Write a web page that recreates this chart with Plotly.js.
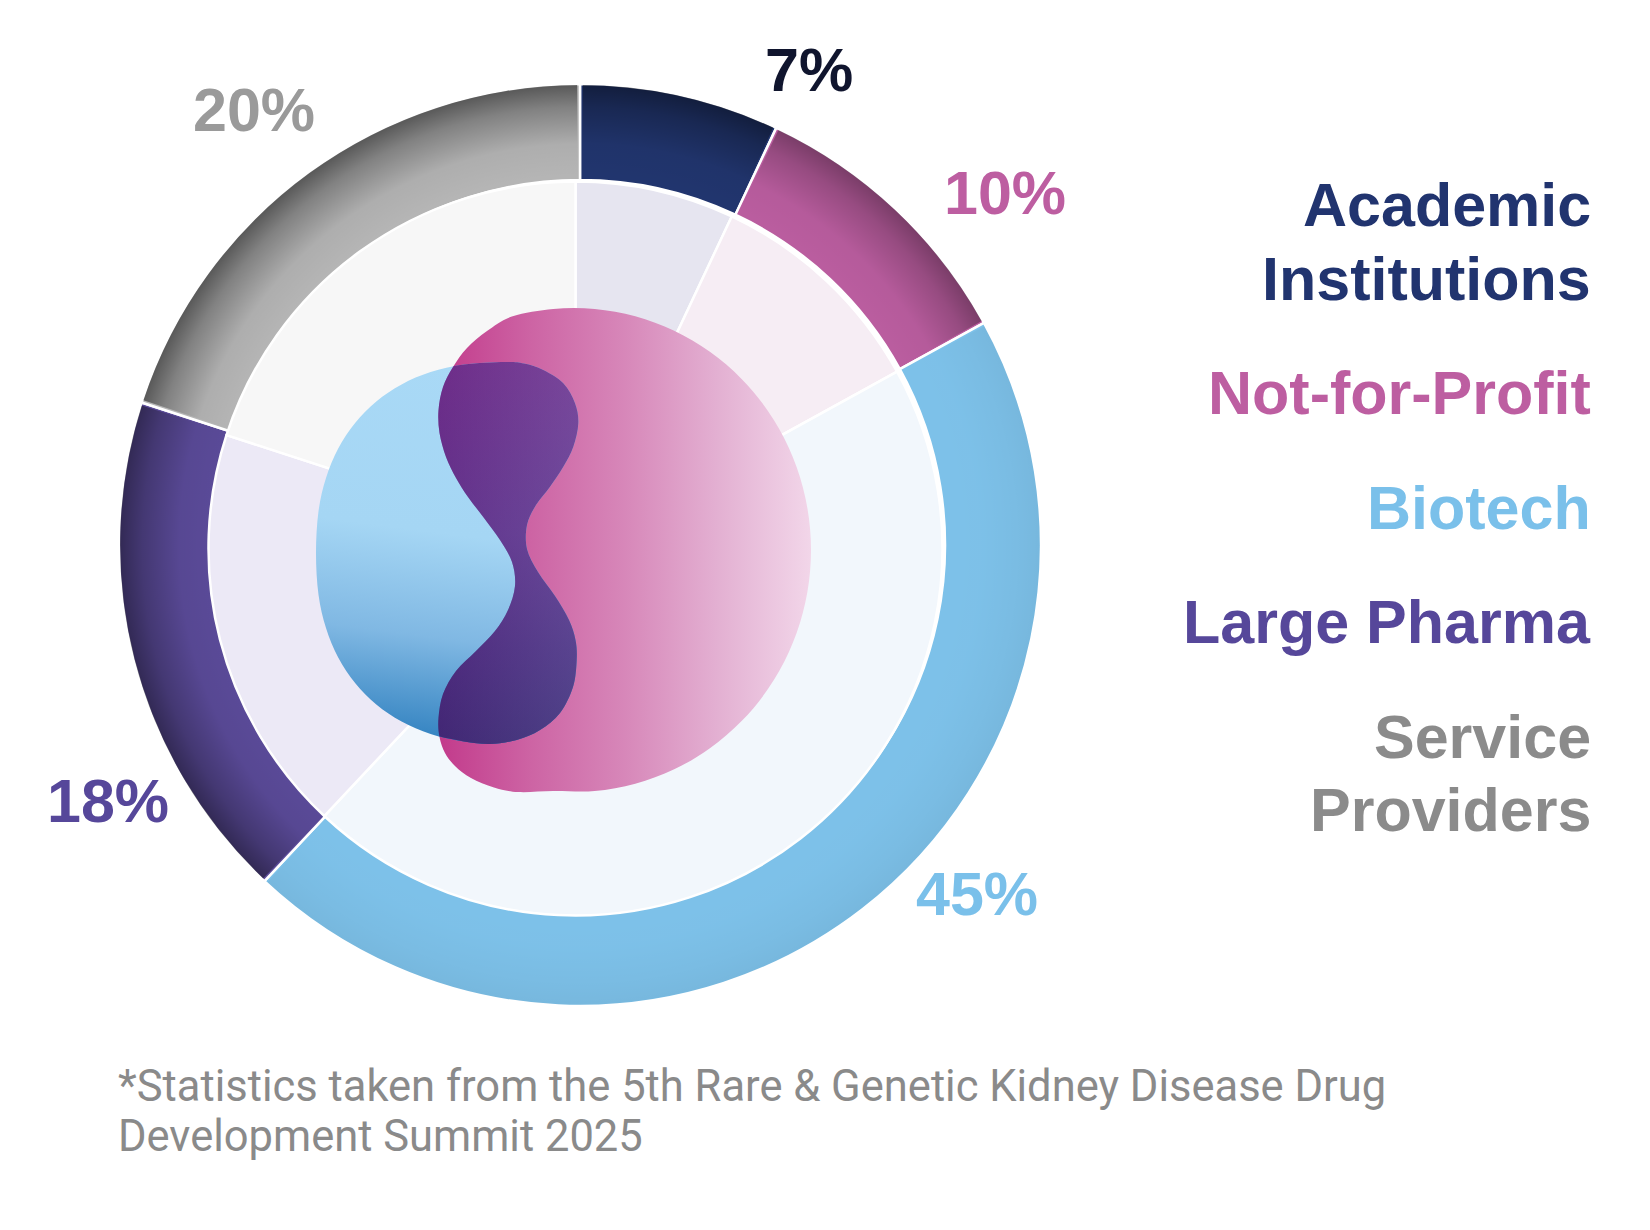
<!DOCTYPE html>
<html>
<head>
<meta charset="utf-8">
<script src="https://cdn.plot.ly/plotly-3.0.1.min.js"></script>
<style>
html,body{margin:0;padding:0;background:#ffffff;}
#chart{width:1650px;height:1230px;}
</style>
</head>
<body>
<div id="chart"></div>
<script>
// ---------------- DATA ----------------
const categories = ['Academic Institutions', 'Not-for-Profit', 'Biotech', 'Large Pharma', 'Service Providers'];
const shares = [7, 10, 45, 18, 20];
const legendLines = [['Academic', 'Institutions'], ['Not-for-Profit'], ['Biotech'], ['Large Pharma'], ['Service', 'Providers']];
const footnoteLines = ['*Statistics taken from the 5th Rare & Genetic Kidney Disease Drug', 'Development Summit 2025'];

// ---------------- STYLE ----------------
const ringColors   = ['#21356e', '#ba5d9f', '#7dc1e9', '#5a4a98', '#b5b5b5'];
const lightColors  = ['#e6e5f0', '#f6edf4', '#f2f7fc', '#ece9f6', '#f7f7f7'];
const labelColors  = ['#10152e', '#bd5ea1', '#7ac0ea', '#56479a', '#9a9a9a'];
const legendColors = ['#21346f', '#bd5ea1', '#7ac0ea', '#56479a', '#8b8b8b'];
const shadeStrength = [0.45, 0.35, 0.05, 0.45, 0.52];

// layout positions (pixels)
const W = 1650, H = 1230;
const OUTER_C = [580, 545], R_OUT = 461;
const INNER_C = [575.5, 548.5], R_IN = 367;
const labelPos = [[809, 70], [1005, 193], [977, 894], [108, 801], [254, 110]];
const legendY = [[205, 279], [393], [508], [622], [737, 810]];
const legendRight = 1593;
const footnoteX = 116, footnoteY = [1086, 1136];

const FONT = 'Liberation Sans, Arial, Helvetica, sans-serif';
const px = x => x / W;
const py = y => 1 - y / H;
function dom(c, r) { return { x: [(c[0] - r) / W, (c[0] + r) / W], y: [1 - (c[1] + r) / H, 1 - (c[1] - r) / H] }; }

const outer = {
  type: 'pie', values: shares, labels: categories, sort: false, direction: 'clockwise', rotation: 0,
  hole: (R_IN - 2) / R_OUT, marker: { colors: ringColors, line: { color: '#ffffff', width: 2.5 } },
  textinfo: 'none', hoverinfo: 'label+percent', showlegend: false, domain: dom(OUTER_C, R_OUT)
};
const inner = {
  type: 'pie', values: shares, labels: categories, sort: false, direction: 'clockwise', rotation: 0,
  hole: 0, marker: { colors: lightColors, line: { color: '#ffffff', width: 2.5 } },
  textinfo: 'none', hoverinfo: 'label+percent', showlegend: false, domain: dom(INNER_C, R_IN)
};

// ---------------- ANNOTATIONS ----------------
const annotations = [];
shares.forEach((v, i) => {
  annotations.push({
    xref: 'paper', yref: 'paper', x: px(labelPos[i][0]), y: py(labelPos[i][1]),
    xanchor: 'center', yanchor: 'middle', showarrow: false, text: v + '%',
    font: { family: FONT, size: 61, color: labelColors[i], weight: 700 }
  });
});
legendLines.forEach((lines, i) => {
  lines.forEach((t, j) => {
    annotations.push({
      xref: 'paper', yref: 'paper', x: px(legendRight), y: py(legendY[i][j]),
      xanchor: 'right', yanchor: 'middle', showarrow: false, text: t, align: 'right',
      font: { family: FONT, size: 61, color: legendColors[i], weight: 700 }
    });
  });
});
footnoteLines.forEach((t, j) => {
  annotations.push({
    xref: 'paper', yref: 'paper', x: px(footnoteX), y: py(footnoteY[j]),
    xanchor: 'left', yanchor: 'middle', showarrow: false, text: t, align: 'left',
    font: { family: 'Roboto, Liberation Sans, Arial, sans-serif', size: 43.5, color: '#8a8a8a' }
  });
});

// ---------------- DECORATION (centre logo + ring shading) ----------------
function f(n) { return Math.round(n * 10) / 10; }
// pink blob: elliptical right part + S-shaped left edge
const PINK_ELLIPSE = { cx: 574, cy: 550, rx: 237, ry: 242, from: -15, to: 185, step: 10 };
const PINK_LEFT = [[518,792],[494,787.5],[471,778],[455,766],[445,753],[439.5,737],[438.5,718],[443,694],[456,671],[476,651],[495,631],[508,610],[515,586],[512,562],[500,540],[484,518],[468,497],[456,478],[446,457],[439.5,433],[438.5,410],[443,387],[453,367],[467,348],[487,331]];
// blue blob: S-shaped right edge + rounded (superellipse) left part
const BLUE_RIGHT = [[505,362],[524,363.5],[543.3,370],[563.3,383.3],[575,403.3],[578.3,423.3],[573.3,446.7],[563.3,466.7],[550,486.7],[536,505],[527,525],[527,549],[538,572],[555,596],[569,620],[575.5,640],[576.7,660],[573,687],[560,713],[540,730],[516.7,740],[490,744]];
const BLUE_LEFT = { cx: 505, cy: 553, rx: 189, ry: 191, n: 2.3, from: 100, to: 260, step: 10 };

function pinkPoints() {
  const e = PINK_ELLIPSE, pts = [];
  for (let a = e.from; a <= e.to + 1e-9; a += e.step) {
    const r = a * Math.PI / 180;
    pts.push([e.cx + e.rx * Math.sin(r), e.cy - e.ry * Math.cos(r)]);
  }
  return pts.concat(PINK_LEFT);
}
function bluePoints() {
  const e = BLUE_LEFT, pts = BLUE_RIGHT.slice();
  const pw = v => Math.sign(v) * Math.pow(Math.abs(v), 2 / e.n);
  for (let a = e.from; a <= e.to + 1e-9; a += e.step) {
    const r = a * Math.PI / 180;
    pts.push([e.cx + e.rx * pw(Math.cos(r)), e.cy + e.ry * pw(Math.sin(r))]);
  }
  return pts;
}
function smooth(pts) {
  const n = pts.length;
  let d = 'M' + f(pts[0][0]) + ',' + f(pts[0][1]);
  for (let i = 0; i < n; i++) {
    const p0 = pts[(i - 1 + n) % n], p1 = pts[i], p2 = pts[(i + 1) % n], p3 = pts[(i + 2) % n];
    const c1 = [p1[0] + (p2[0] - p0[0]) / 6, p1[1] + (p2[1] - p0[1]) / 6];
    const c2 = [p2[0] - (p3[0] - p1[0]) / 6, p2[1] - (p3[1] - p1[1]) / 6];
    d += ' C' + f(c1[0]) + ',' + f(c1[1]) + ' ' + f(c2[0]) + ',' + f(c2[1]) + ' ' + f(p2[0]) + ',' + f(p2[1]);
  }
  return d + 'Z';
}
function pt(c, r, deg) { const a = deg * Math.PI / 180; return [c[0] + r * Math.sin(a), c[1] - r * Math.cos(a)]; }
function wedge(c, a0, a1, r0, r1) {
  const large = (a1 - a0) > 180 ? 1 : 0;
  const o0 = pt(c, r1, a0), o1 = pt(c, r1, a1), i1 = pt(c, r0, a1), i0 = pt(c, r0, a0);
  return 'M' + f(o0[0]) + ',' + f(o0[1]) + ' A' + r1 + ',' + r1 + ' 0 ' + large + ' 1 ' + f(o1[0]) + ',' + f(o1[1]) +
    ' L' + f(i1[0]) + ',' + f(i1[1]) + ' A' + r0 + ',' + r0 + ' 0 ' + large + ' 0 ' + f(i0[0]) + ',' + f(i0[1]) + 'Z';
}

const total = shares.reduce((a, b) => a + b, 0);
let cum = 0, shadeDefs = '', shadePaths = '';
shares.forEach((v, i) => {
  const a0 = cum / total * 360 + 0.35, a1 = (cum + v) / total * 360 - 0.35;
  cum += v;
  const s = shadeStrength[i];
  shadeDefs += '<radialGradient id="sh' + i + '" gradientUnits="userSpaceOnUse" cx="' + OUTER_C[0] + '" cy="' + OUTER_C[1] + '" r="' + R_OUT + '">' +
    '<stop offset="0.80" stop-color="#000" stop-opacity="0"/>' +
    '<stop offset="0.87" stop-color="#000" stop-opacity="' + (0.08 * s) + '"/>' +
    '<stop offset="0.95" stop-color="#000" stop-opacity="' + (0.55 * s) + '"/>' +
    '<stop offset="1" stop-color="#000" stop-opacity="' + (1.0 * s) + '"/></radialGradient>';
  shadePaths += '<path d="' + wedge(OUTER_C, a0, a1, R_IN + 2, R_OUT - 1) + '" fill="url(#sh' + i + ')"/>';
});

const pinkD = smooth(pinkPoints()), blueD = smooth(bluePoints());
const svg = '<svg xmlns="http://www.w3.org/2000/svg" width="' + W + '" height="' + H + '" viewBox="0 0 ' + W + ' ' + H + '">' +
  '<defs>' + shadeDefs +
  '<linearGradient id="gPink" gradientUnits="userSpaceOnUse" x1="438" y1="0" x2="811" y2="0">' +
  '<stop offset="0" stop-color="#c23a8b"/><stop offset="0.25" stop-color="#cd64a4"/><stop offset="0.5" stop-color="#d787b9"/><stop offset="0.75" stop-color="#e3b0d2"/><stop offset="1" stop-color="#f2d6e9"/></linearGradient>' +
  '<linearGradient id="gBlue" gradientUnits="userSpaceOnUse" x1="470" y1="361" x2="420" y2="745">' +
  '<stop offset="0" stop-color="#a9d9f6"/><stop offset="0.45" stop-color="#a5d6f4"/><stop offset="0.72" stop-color="#80b8e3"/><stop offset="1" stop-color="#2f80bf"/></linearGradient>' +
  '<linearGradient id="gPurple" gradientUnits="userSpaceOnUse" x1="0" y1="361" x2="0" y2="745">' +
  '<stop offset="0" stop-color="#70338d"/><stop offset="0.45" stop-color="#5b3a8f"/><stop offset="0.75" stop-color="#3f2f7c"/><stop offset="1" stop-color="#2a2b6d"/></linearGradient>' +
  '<linearGradient id="gPurpleH" gradientUnits="userSpaceOnUse" x1="438" y1="0" x2="580" y2="0">' +
  '<stop offset="0" stop-color="#6a1f80" stop-opacity="0.35"/><stop offset="1" stop-color="#8a6cb5" stop-opacity="0.35"/></linearGradient>' +
  '<clipPath id="cpPink"><path d="' + pinkD + '"/></clipPath>' +
  '</defs>' +
  shadePaths +
  '<path d="' + pinkD + '" fill="url(#gPink)"/>' +
  '<path d="' + blueD + '" fill="url(#gBlue)"/>' +
  '<g clip-path="url(#cpPink)"><path d="' + blueD + '" fill="url(#gPurple)"/><path d="' + blueD + '" fill="url(#gPurpleH)"/></g>' +
  '</svg>';

const layout = {
  width: W, height: H,
  margin: { l: 0, r: 0, t: 0, b: 0, pad: 0 },
  paper_bgcolor: '#ffffff', plot_bgcolor: '#ffffff',
  showlegend: false,
  annotations: annotations,
  images: [{
    source: 'data:image/svg+xml;charset=utf-8,' + encodeURIComponent(svg),
    xref: 'paper', yref: 'paper', x: 0, y: 1, sizex: 1, sizey: 1,
    xanchor: 'left', yanchor: 'top', sizing: 'stretch', layer: 'above'
  }]
};

Plotly.newPlot('chart', [outer, inner], layout, { displayModeBar: false, staticPlot: true });
</script>
</body>
</html>
